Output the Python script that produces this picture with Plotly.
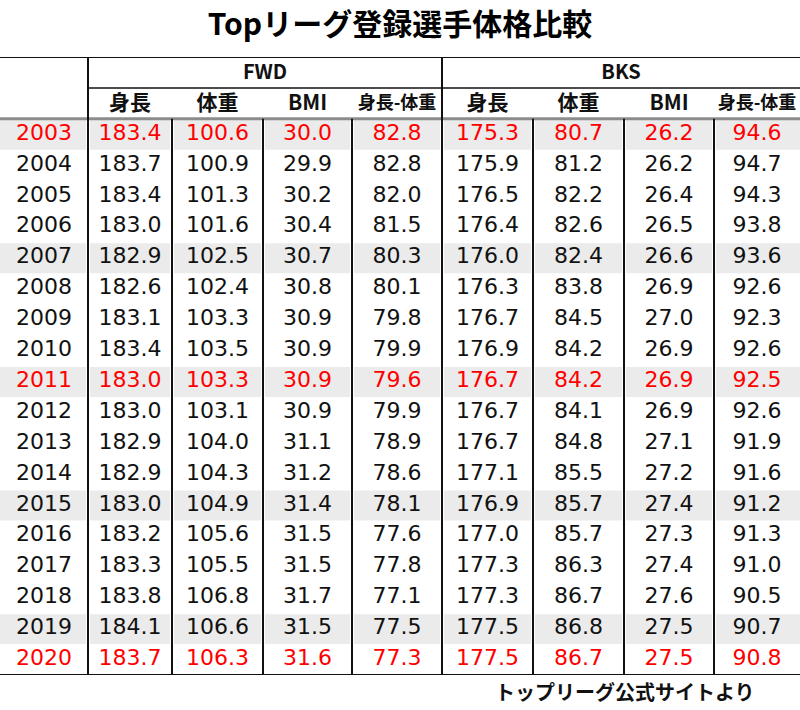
import plotly.graph_objects as go

# ---- data ----
years = list(range(2003, 2021))
fwd_height = [183.4, 183.7, 183.4, 183.0, 182.9, 182.6, 183.1, 183.4, 183.0,
              183.0, 182.9, 182.9, 183.0, 183.2, 183.3, 183.8, 184.1, 183.7]
fwd_weight = [100.6, 100.9, 101.3, 101.6, 102.5, 102.4, 103.3, 103.5, 103.3,
              103.1, 104.0, 104.3, 104.9, 105.6, 105.5, 106.8, 106.6, 106.3]
fwd_bmi = [30.0, 29.9, 30.2, 30.4, 30.7, 30.8, 30.9, 30.9, 30.9,
           30.9, 31.1, 31.2, 31.4, 31.5, 31.5, 31.7, 31.5, 31.6]
fwd_diff = [82.8, 82.8, 82.0, 81.5, 80.3, 80.1, 79.8, 79.9, 79.6,
            79.9, 78.9, 78.6, 78.1, 77.6, 77.8, 77.1, 77.5, 77.3]
bks_height = [175.3, 175.9, 176.5, 176.4, 176.0, 176.3, 176.7, 176.9, 176.7,
              176.7, 176.7, 177.1, 176.9, 177.0, 177.3, 177.3, 177.5, 177.5]
bks_weight = [80.7, 81.2, 82.2, 82.6, 82.4, 83.8, 84.5, 84.2, 84.2,
              84.1, 84.8, 85.5, 85.7, 85.7, 86.3, 86.7, 86.8, 86.7]
bks_bmi = [26.2, 26.2, 26.4, 26.5, 26.6, 26.9, 27.0, 26.9, 26.9,
           26.9, 27.1, 27.2, 27.4, 27.3, 27.4, 27.6, 27.5, 27.5]
bks_diff = [94.6, 94.7, 94.3, 93.8, 93.6, 92.6, 92.3, 92.6, 92.5,
            92.6, 91.9, 91.6, 91.2, 91.3, 91.0, 90.5, 90.7, 90.8]

groups = ["FWD", "BKS"]
sub_headers = ["身長", "体重", "BMI", "身長-体重"]
highlight_years = [2003, 2011, 2020]
shaded_years = [2003, 2007, 2011, 2015, 2019]

title = "Topリーグ登録選手体格比較"
source_note = "トップリーグ公式サイトより"

# ---- layout settings ----
edges = [0, 88, 172, 263, 352, 442, 533, 624, 714, 800]
centers = [(a + b) / 2 for a, b in zip(edges[:-1], edges[1:])]
FONT = "Noto Sans CJK JP"
NUM_FONT = "DejaVu Sans"
RED = "#ff0000"
INK = "#111111"
SHADE = "#ebebeb"

columns = [[str(y) for y in years]]
for col in [fwd_height, fwd_weight, fwd_bmi, fwd_diff,
            bks_height, bks_weight, bks_bmi, bks_diff]:
    columns.append([f"{v:.1f}" for v in col])

rows = list(range(len(years)))
row_colors = [RED if y in highlight_years else INK for y in years]
n = len(years)

fig = go.Figure()

# row shading
shapes = []
for i, y in enumerate(years):
    if y in shaded_years:
        for a, b in zip(edges[:-1], edges[1:]):
            x0 = a + 2 if a > 0 else a
            x1 = b - 2 if b < 800 else b
            shapes.append(dict(type="rect", xref="x", yref="y", layer="below",
                               x0=x0, x1=x1, y0=i - 0.47, y1=i + 0.5,
                               fillcolor=SHADE, line=dict(width=0)))

# grid lines
line_dark = dict(color="#111111", width=2)
shapes.append(dict(type="line", xref="x", yref="y", x0=0, x1=800, y0=-2.5, y1=-2.5, line=line_dark))
shapes.append(dict(type="line", xref="x", yref="y", x0=edges[1], x1=800, y0=-1.5, y1=-1.5,
                   line=dict(color="#111111", width=1.5)))
shapes.append(dict(type="line", xref="x", yref="y", x0=0, x1=800, y0=-0.5, y1=-0.5,
                   line=dict(color="#8c8c8c", width=3)))
shapes.append(dict(type="line", xref="x", yref="y", x0=0, x1=800, y0=n - 0.5, y1=n - 0.5, line=line_dark))
for k, e in enumerate(edges[1:-1], start=1):
    y0 = -2.5 if k in (1, 5) else -0.5
    shapes.append(dict(type="line", xref="x", yref="y", x0=e, x1=e, y0=y0, y1=n - 0.5, line=line_dark))

# table body text
for cx, col in zip(centers, columns):
    fig.add_trace(go.Scatter(
        x=[cx] * n, y=rows, mode="text", text=col,
        textfont=dict(family=NUM_FONT, size=22, color=row_colors),
        hoverinfo="skip", showlegend=False))

# headers
fig.add_trace(go.Scatter(
    x=[(edges[1] + edges[5]) / 2, (edges[5] + edges[9]) / 2], y=[-1.95, -1.95],
    mode="text", text=groups,
    textfont=dict(family=FONT, size=20, color=INK, weight="bold"),
    hoverinfo="skip", showlegend=False))
head_sizes = [18 if len(h) > 3 else 21 for h in sub_headers] * 2
fig.add_trace(go.Scatter(
    x=centers[1:], y=[-0.95] * 8, mode="text", text=sub_headers * 2,
    textfont=dict(family=FONT, size=head_sizes, color=INK, weight="bold"),
    hoverinfo="skip", showlegend=False))

fig.update_layout(
    width=800, height=710,
    margin=dict(l=0, r=0, t=57, b=35),
    paper_bgcolor="white", plot_bgcolor="white",
    shapes=shapes,
    title=dict(text=title, x=0.5, y=0.965, yanchor="middle",
               font=dict(family=FONT, size=30, color="#000000", weight="bold")),
    annotations=[dict(text=source_note, xref="paper", yref="paper", x=0.781, y=0.0,
                      xanchor="center", yanchor="top", showarrow=False,
                      font=dict(family=FONT, size=20, color=INK, weight="bold"))],
    xaxis=dict(range=[0, 800], visible=False, fixedrange=True),
    yaxis=dict(range=[n - 0.5, -2.5], visible=False, fixedrange=True),
)

fig.write_html("out.html", config={"displayModeBar": False},
               post_script="document.body.style.margin='0';")
